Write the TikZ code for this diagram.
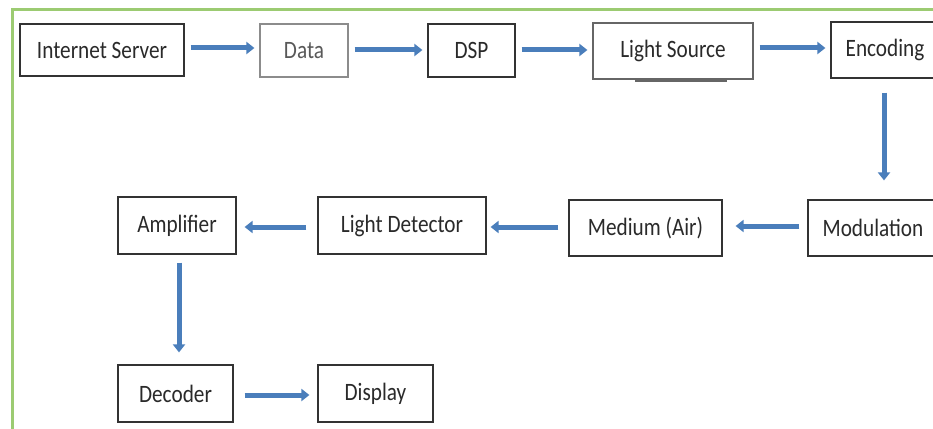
\documentclass[tikz,border=0pt]{standalone}
\usepackage{fontspec}
\usepackage{graphicx}
\setmainfont{Carlito}
\usetikzlibrary{arrows.meta}
\definecolor{arrowblue}{HTML}{4A7EBB}
\definecolor{framegreen}{HTML}{9CCB72}
\definecolor{txtgray}{HTML}{2A2A2A}
\newcommand{\sqz}[1]{\scalebox{0.85}[1]{#1}}
\begin{document}
\begin{tikzpicture}[x=1pt,y=-1pt,
  blockbox/.style={draw=black!80, line width=1.2pt, fill=white, text=txtgray,
    inner sep=0pt, font=\fontsize{25}{28}\selectfont},
  flow/.style={draw=arrowblue, line width=5pt,
    -{Triangle[width=12pt,length=8pt]}, shorten <=6pt, shorten >=5pt}]
\useasboundingbox (0,0) rectangle (933,428);
% green frame
\draw[framegreen, line width=3pt] (12,430) -- (12,10) -- (935,10);
% row 1
\node[blockbox, minimum width=164pt, minimum height=52pt] (is) at (102,50) {\sqz{Internet Server}};
\node[blockbox, draw=black!45, text=black!65, minimum width=88pt, minimum height=53pt] (data) at (304,50.5) {\sqz{Data}};
\node[blockbox, minimum width=87pt, minimum height=53pt] (dsp) at (471.5,50.5) {\sqz{DSP}};
\node[blockbox, draw=black!60, minimum width=160pt, minimum height=56pt] (ls) at (673,51) {\sqz{Light Source}};
\node[blockbox, minimum width=108pt, minimum height=56pt] (enc) at (885,50) {\sqz{Encoding}};
% row 2
\node[blockbox, minimum width=130pt, minimum height=56pt] (mod) at (873,228) {\sqz{Modulation}};
\node[blockbox, minimum width=153pt, minimum height=56pt] (med) at (645.5,228) {\sqz{Medium (Air)}};
\node[blockbox, minimum width=168pt, minimum height=57pt] (ld) at (402,225.5) {\sqz{Light Detector}};
\node[blockbox, minimum width=118pt, minimum height=57pt] (amp) at (177,225.5) {\sqz{Amplifier}};
% row 3
\node[blockbox, minimum width=115pt, minimum height=57pt] (dec) at (175.5,393.5) {\sqz{Decoder}};
\node[blockbox, minimum width=115pt, minimum height=57pt] (disp) at (375.5,393.5) {\sqz{Display}};
% light source bottom mark
\draw[black!60, line width=3pt] ([xshift=-38pt,yshift=-0.5pt]ls.south) -- ([xshift=54pt,yshift=-0.5pt]ls.south);
% connectors
\draw[flow] ([yshift=2pt]is.east) -- ([yshift=2pt]is.east -| data.west);
\draw[flow] ([yshift=0.5pt]data.east) -- ([yshift=0.5pt]data.east -| dsp.west);
\draw[flow] ([yshift=0.5pt]dsp.east) -- ([yshift=0.5pt]dsp.east -| ls.west);
\draw[flow] ([yshift=3pt]ls.east) -- ([yshift=3pt]ls.east -| enc.west);
\draw[flow, shorten <=14pt, shorten >=19pt] ([xshift=-1pt]enc.south) -- ([xshift=-1pt]enc.south |- mod.north);
\draw[flow, shorten <=8pt, shorten >=13pt] ([yshift=2pt]mod.west) -- ([yshift=2pt]mod.west -| med.east);
\draw[flow, shorten <=10pt, shorten >=4pt] ([yshift=1pt]med.west) -- ([yshift=1pt]med.west -| ld.east);
\draw[flow, shorten <=11pt, shorten >=8pt] ([yshift=-1.5pt]ld.west) -- ([yshift=-1.5pt]ld.west -| amp.east);
\draw[flow, shorten <=8pt, shorten >=12pt] ([xshift=2pt]amp.south) -- ([xshift=2pt]amp.south |- dec.north);
\draw[flow, shorten <=11pt, shorten >=8pt] ([yshift=-1.5pt]dec.east) -- ([yshift=-1.5pt]dec.east -| disp.west);
\end{tikzpicture}
\end{document}
